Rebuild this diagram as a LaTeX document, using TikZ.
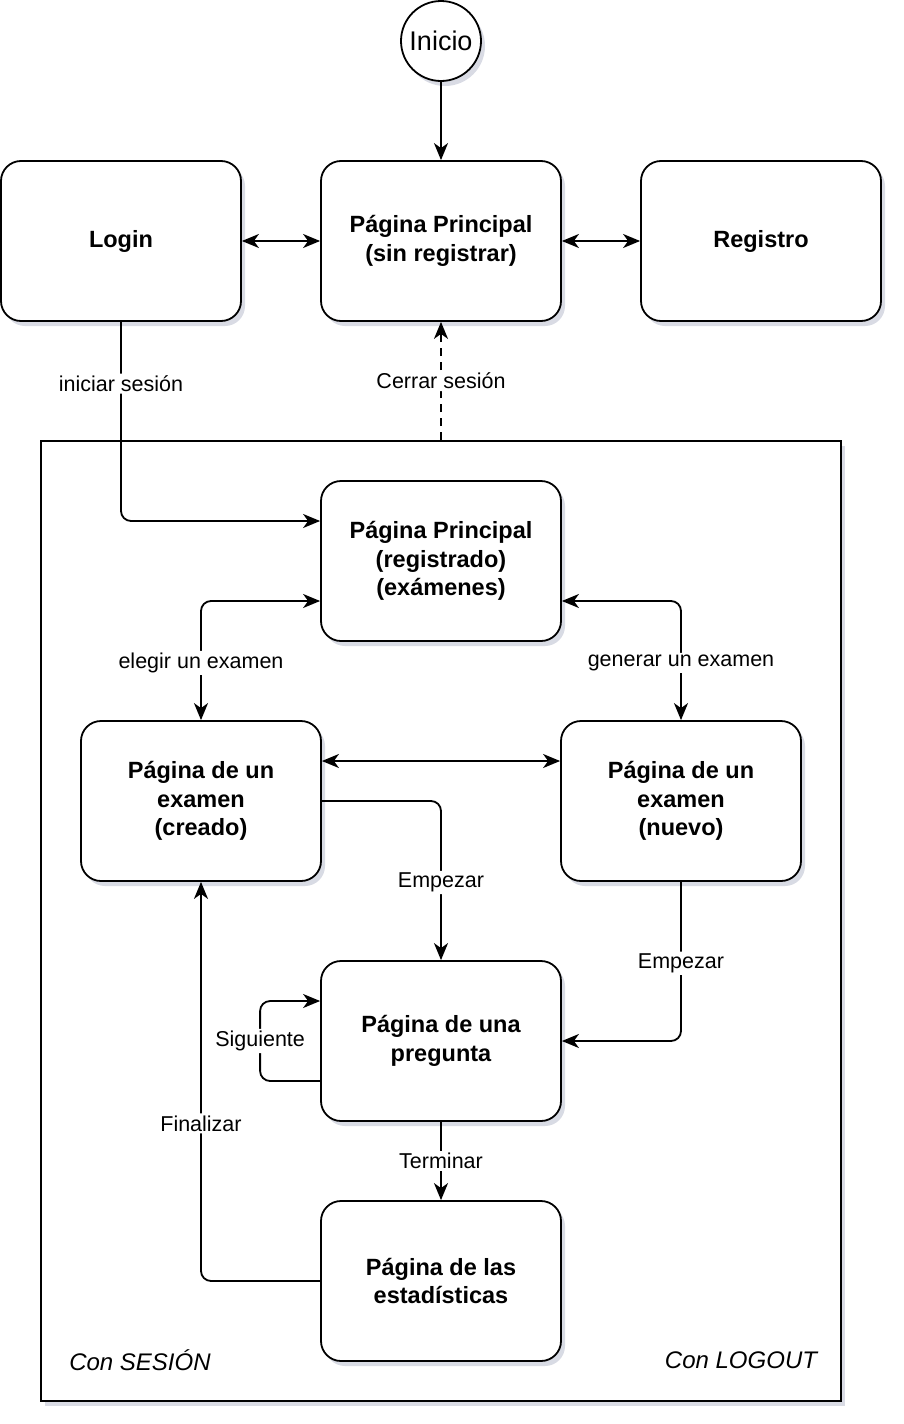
\documentclass[tikz,border=0pt]{standalone}
\usepackage{fontspec}
\setmainfont{Liberation Sans}
\usetikzlibrary{arrows.meta,shadows}

\definecolor{shadowgray}{RGB}{170,176,196}

\tikzset{
  >={Stealth[length=17pt,width=14pt,inset=5pt]},
  softshadow/.style={drop shadow={shadow xshift=4pt,shadow yshift=-5pt,opacity=0.45,fill=shadowgray}},
  page/.style={draw, line width=1.8pt, rounded corners=20pt, fill=white, softshadow,
    minimum width=240pt, minimum height=160pt, align=center,
    font=\fontsize{23.5}{28.5}\selectfont\bfseries},
  link/.style={line width=1.8pt, rounded corners=10pt},
  linklabel/.style={fill=white, inner sep=2pt, font=\fontsize{21.5}{25}\selectfont},
}

\begin{document}
\begin{tikzpicture}[x=1pt,y=-1pt]
\useasboundingbox (0,0) rectangle (904,1424);

\node[draw, line width=1.8pt, fill=white, softshadow, minimum width=800pt, minimum height=960pt] (sesion_area) at (441,921) {};
\node[draw, circle, line width=1.8pt, fill=white, softshadow, minimum size=80pt, inner sep=0pt, font=\fontsize{27}{30}\selectfont] (inicio) at (441,41) {Inicio};

\node[page] (login) at (121,241) {Login};
\node[page] (main_sin) at (441,241) {Página Principal\\(sin registrar)};
\node[page] (registro) at (761,241) {Registro};
\node[page] (main_reg) at (441,561) {Página Principal\\(registrado)\\(exámenes)};
\node[page] (exam_creado) at (201,801) {Página de un\\examen\\(creado)};
\node[page] (exam_nuevo) at (681,801) {Página de un\\examen\\(nuevo)};
\node[page] (pregunta) at (441,1041) {Página de una\\pregunta};
\node[page] (stats) at (441,1281) {Página de las\\estadísticas};

\node[font=\fontsize{24}{28}\selectfont\itshape] (con_sesion) at (140,1360) {Con SESIÓN};
\node[font=\fontsize{24}{28}\selectfont\itshape] (con_logout) at (741,1360) {Con LOGOUT};

\draw[link,->] (inicio) -- (main_sin);
\draw[link,<->] (login) -- (main_sin);
\draw[link,<->] (main_sin) -- (registro);
\draw[link,->] (login.south) |- node[linklabel,pos=0.155] {iniciar sesión} ([yshift=40pt]main_reg.west);
\draw[link,->,dash pattern=on 8pt off 6pt] (sesion_area.north) -- node[linklabel] {Cerrar sesión} (main_sin.south);
\draw[link,<->] ([yshift=-40pt]main_reg.west) -| node[linklabel,pos=0.76] {elegir un examen} (exam_creado.north);
\draw[link,<->] ([yshift=-40pt]main_reg.east) -| node[linklabel,pos=0.76] {generar un examen} (exam_nuevo.north);
\draw[link,<->] ([yshift=40pt]exam_creado.east) -- ([yshift=40pt]exam_nuevo.west);
\draw[link,->] (exam_creado.east) -| node[linklabel,pos=0.756] {Empezar} (pregunta.north);
\draw[link,->] (exam_nuevo.south) |- node[linklabel,pos=0.256] {Empezar} (pregunta.east);
\draw[link,->] ([yshift=-40pt]pregunta.west) -- ++(-60,0) |- node[linklabel,pos=0.25] {Siguiente} ([yshift=40pt]pregunta.west);
\draw[link,->] (pregunta) -- node[linklabel] {Terminar} (stats);
\draw[link,->] (stats.west) -| node[linklabel,pos=0.6975] {Finalizar} (exam_creado.south);

\end{tikzpicture}
\end{document}
